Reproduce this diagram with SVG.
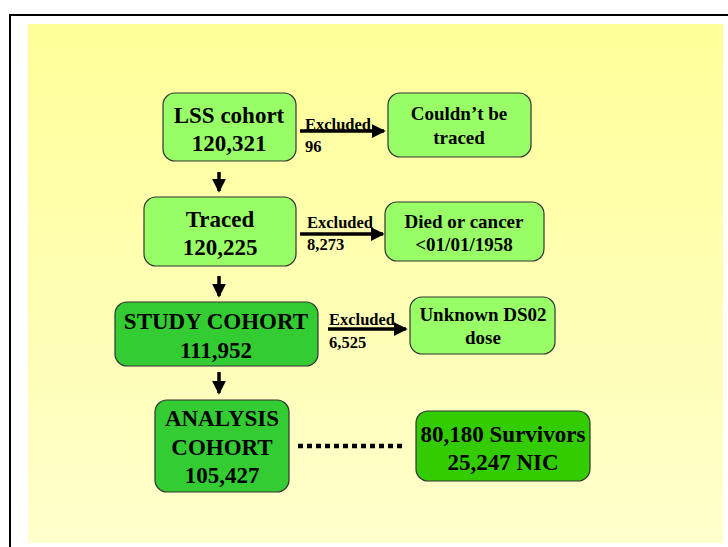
<svg xmlns="http://www.w3.org/2000/svg" width="728" height="547" viewBox="0 0 728 547">
<defs>
<linearGradient id="bg" x1="0" y1="0" x2="0" y2="1">
<stop offset="0" stop-color="#FFFF99"/>
<stop offset="1" stop-color="#FFFFCC"/>
</linearGradient>
<marker id="ah" markerWidth="4" markerHeight="4" refX="3.5" refY="2" orient="auto" markerUnits="strokeWidth">
<path d="M0,0 L4,2 L0,4 Z" fill="#000"/>
</marker>
<style>
.t{font-family:"Liberation Serif","Times New Roman",serif;font-weight:bold;fill:#000;text-anchor:middle}
.big{font-size:23px}
.mid{font-size:19px}
.sm{font-family:"Liberation Serif","Times New Roman",serif;font-weight:bold;font-size:16.5px;fill:#000}
.box{stroke:#333;stroke-width:1.2}
.lg{fill:#99FF66}
.dg{fill:#33CC33}
.xg{fill:#33CC00}
.arr{stroke:#000;stroke-width:3.5;fill:none;marker-end:url(#ah)}
</style>
</defs>
<rect x="0" y="0" width="728" height="547" fill="#fff"/>
<path d="M10,547 V15 H728" fill="none" stroke="#000" stroke-width="2"/>
<rect x="28" y="24" width="695" height="519" fill="url(#bg)"/>

<g id="connectors">
<path class="arr" d="M219,172 V191"/>
<path class="arr" d="M219,276 V296"/>
<path class="arr" d="M219,372 V393"/>
<path class="arr" d="M300,131 H384"/>
<path class="arr" d="M300,234 H383"/>
<path class="arr" d="M328,329 H406"/>
<path d="M298,446 H402" stroke="#000" stroke-width="4.5" stroke-dasharray="5,4"/>
<text class="sm" x="305" y="130">Excluded</text>
<text class="sm" x="305" y="152">96</text>
<text class="sm" x="307" y="228">Excluded</text>
<text class="sm" x="307" y="250">8,273</text>
<text class="sm" x="329" y="325">Excluded</text>
<text class="sm" x="329" y="348">6,525</text>
</g>

<g id="lss">
<rect class="box lg" x="163" y="93" width="133" height="68" rx="12"/>
<text class="t big" x="229" y="123">LSS cohort</text>
<text class="t big" x="229" y="151">120,321</text>
</g>
<g id="untraced">
<rect class="box lg" x="388" y="93" width="143" height="64" rx="12"/>
<text class="t mid" x="459" y="120">Couldn’t be</text>
<text class="t mid" x="459" y="144">traced</text>
</g>
<g id="traced">
<rect class="box lg" x="144" y="197" width="152" height="69" rx="12"/>
<text class="t big" x="220" y="227">Traced</text>
<text class="t big" x="220" y="255">120,225</text>
</g>
<g id="died">
<rect class="box lg" x="385" y="202" width="159" height="59" rx="12"/>
<text class="t mid" x="464" y="228">Died or cancer</text>
<text class="t mid" x="464" y="251">&lt;01/01/1958</text>
</g>
<g id="study">
<rect class="box dg" x="115" y="302" width="203" height="64" rx="12"/>
<text class="t big" x="216" y="329">STUDY COHORT</text>
<text class="t big" x="216" y="358">111,952</text>
</g>
<g id="unknown">
<rect class="box lg" x="410" y="297" width="145" height="57" rx="12"/>
<text class="t mid" x="483" y="321">Unknown DS02</text>
<text class="t mid" x="483" y="344">dose</text>
</g>
<g id="analysis">
<rect class="box dg" x="155" y="400" width="134" height="92" rx="12"/>
<text class="t big" x="222" y="426">ANALYSIS</text>
<text class="t big" x="222" y="455">COHORT</text>
<text class="t big" x="222" y="483">105,427</text>
</g>
<g id="survivors">
<rect class="box xg" x="416" y="411" width="174" height="70" rx="12"/>
<text class="t big" x="503" y="442">80,180 Survivors</text>
<text class="t big" x="503" y="470">25,247 NIC</text>
</g>
</svg>
